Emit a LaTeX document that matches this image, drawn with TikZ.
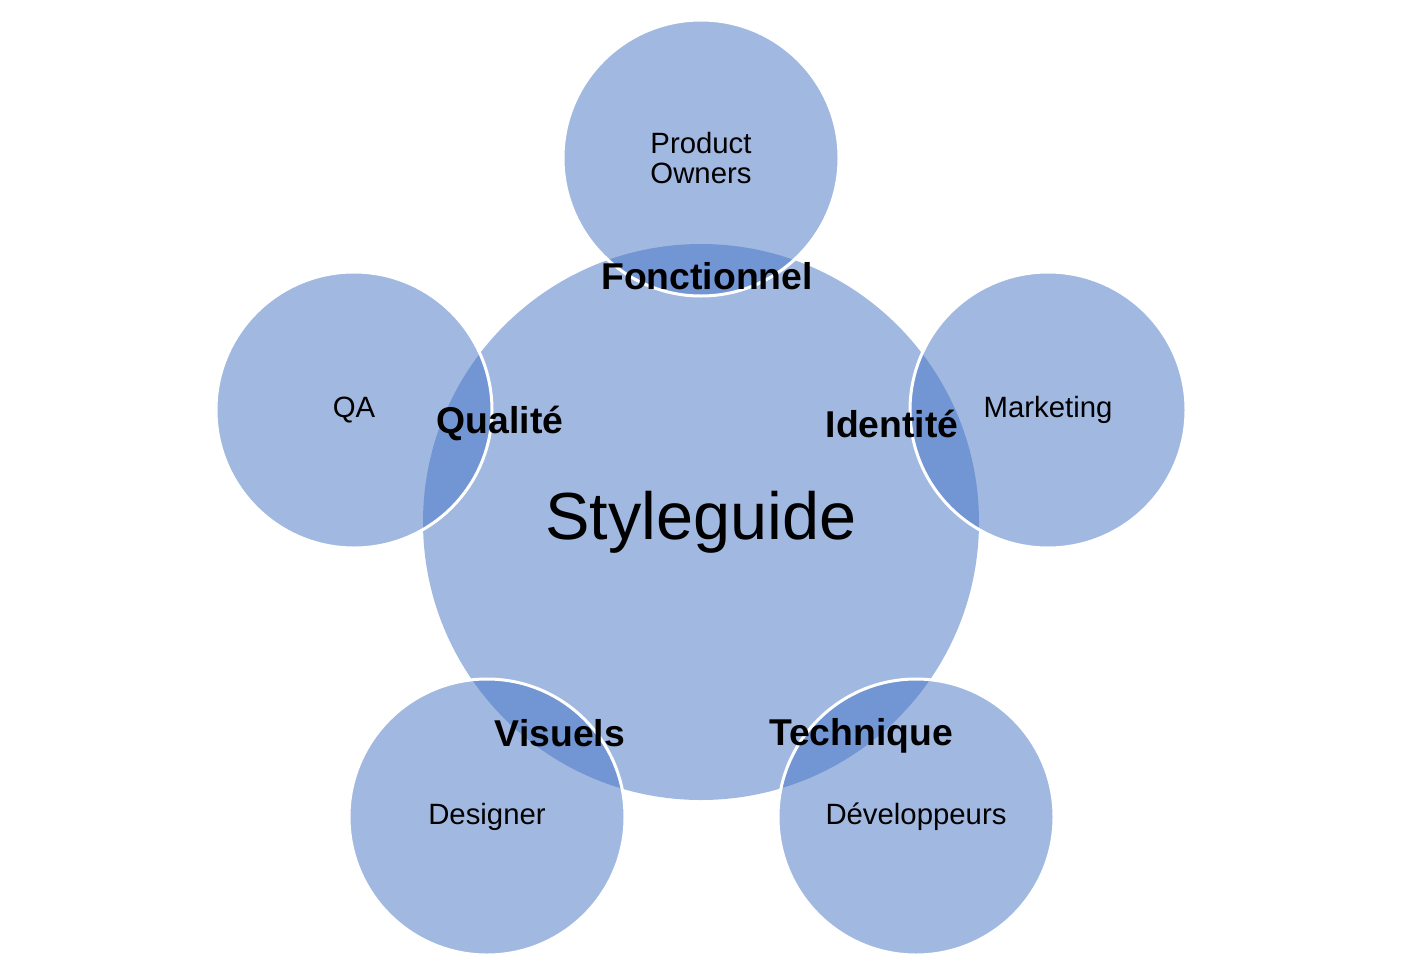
\documentclass[tikz,border=0pt]{standalone}
\usepackage{fontspec}
\setmainfont{Liberation Sans}
\usetikzlibrary{positioning,calc}
\definecolor{vennblue}{HTML}{4472C4}
\tikzstyle{venn}=[
  x=0.75pt,y=-0.75pt
]
\tikzstyle{hub}=[
  circle,inner sep=0pt,fill=vennblue,fill opacity=0.5,text opacity=1,
  minimum size=417pt,font=\fontsize{50}{57}\selectfont
]
\tikzstyle{role}=[
  circle,inner sep=0pt,fill=vennblue,fill opacity=0.5,text opacity=1,
  draw=white,line width=2.25pt,minimum size=207pt,align=center,
  font=\fontsize{22}{22.5}\selectfont
]
\tikzstyle{facet}=[
  inner sep=0pt,font=\bfseries\fontsize{28}{32}\selectfont
]

\begin{document}
\begin{tikzpicture}[venn]
    \useasboundingbox (0,0) rectangle (1404,975);
    \node (hub) at (701,522) [hub] {Styleguide};
    \node (po) at ($(hub) + (0,-364)$) [role] {Product\\Owners};
    \node (mkt) at ($(hub) + (347,-112)$) [role] {Marketing};
    \node (dev) at ($(hub) + (215,295)$) [role] {Développeurs};
    \node (des) at ($(hub) + (-214,295)$) [role] {Designer};
    \node (qa) at ($(hub) + (-347,-112)$) [role] {QA};
    % labels of the overlaps
    \node (fonc) at (707,276) [facet] {Fonctionnel};
    \node (ident) at (892,424) [facet] {Identité};
    \node (tech) at (861,736) [facet] {Technique};
    \node (vis) at (560,733) [facet] {Visuels};
    \node (qual) at (500,423) [facet] {Qualité};
  \end{tikzpicture}
\end{document}
